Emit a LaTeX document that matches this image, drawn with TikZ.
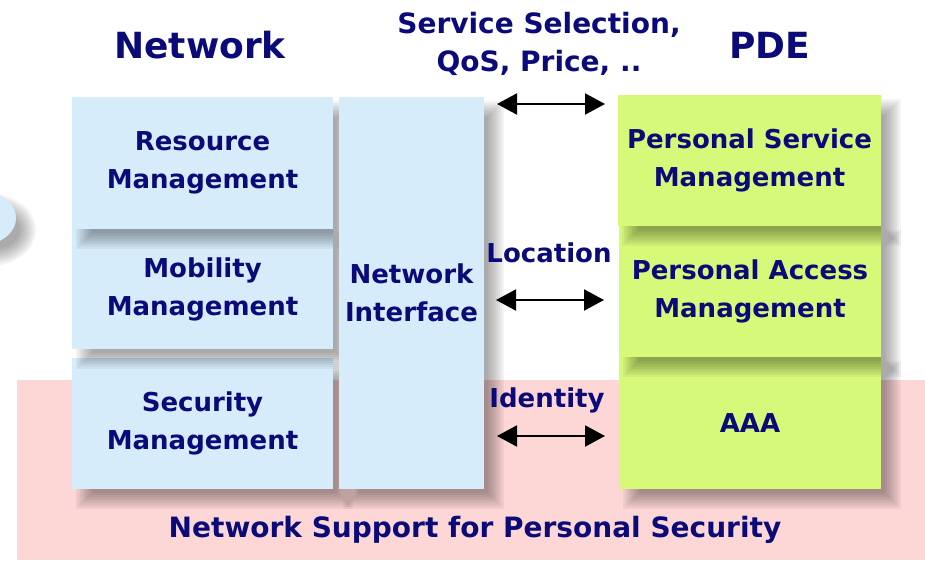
\documentclass[tikz,border=0pt]{standalone}
\usepackage{fontspec}
\setmainfont{DejaVu Sans}
\usetikzlibrary{arrows.meta,shapes.geometric}
\definecolor{boxblue}{RGB}{214,236,251}
\definecolor{boxgreen}{RGB}{214,249,122}
\definecolor{pinkbg}{RGB}{253,214,214}
\definecolor{navy}{RGB}{10,10,120}
\tikzset{
  shadowlayer/.style={fill=black,fill opacity=0.045},
  bluebox/.style={rectangle,fill=boxblue,inner sep=0pt,align=center,text=navy,
    font=\fontsize{26}{38}\selectfont\bfseries},
  greenbox/.style={rectangle,fill=boxgreen,inner sep=0pt,align=center,text=navy,
    font=\fontsize{26}{38}\selectfont\bfseries},
  lbl/.style={text=navy,align=center,inner sep=0pt,font=\fontsize{26}{38}\selectfont\bfseries},
  biglbl/.style={text=navy,align=center,inner sep=0pt,font=\fontsize{28}{38}\selectfont\bfseries},
  title/.style={text=navy,inner sep=0pt,font=\fontsize{36}{40}\selectfont\bfseries},
  dblarrow/.style={line width=2pt,{Triangle[length=20pt,width=21pt]}-{Triangle[length=20pt,width=21pt]}}
}
% soft shadow of a rectangle (x1,y1)-(x2,y2), offset by 12
\newcommand{\softshadow}[4]{%
  \foreach \sr in {-8,-6,...,8} {%
    \fill[shadowlayer] (#1+12-\sr,#2+12-\sr) rectangle (#3+12+\sr,#4+12+\sr);}}
\begin{document}
\begin{tikzpicture}[x=1pt,y=-1pt]
\useasboundingbox (0,0) rectangle (925,560);
% pink background
\fill[pinkbg] (17,380) rectangle (925,560);
% left partial ellipse
\foreach \sr in {-8,-6,...,8} {\fill[shadowlayer] (-10,230) ellipse [x radius=38+\sr, y radius=28+\sr];}
\node[ellipse,fill=boxblue,minimum width=76pt,minimum height=56pt,inner sep=0pt] (ell) at (-22,218) {};
% left column
\softshadow{72}{358}{333}{489}
\node[bluebox,minimum width=261pt,minimum height=131pt] (sec) at (202.5,423.5) {Security\\Management};
\softshadow{72}{229}{333}{349}
\node[bluebox,minimum width=261pt,minimum height=120pt] (mob) at (202.5,289) {Mobility\\Management};
\softshadow{72}{97}{333}{229}
\node[bluebox,minimum width=261pt,minimum height=132pt] (res) at (202.5,163) {Resource\\Management};
\softshadow{339}{97}{484}{489}
\node[bluebox,minimum width=145pt,minimum height=392pt] (ni) at (411.5,293) {Network\\Interface};
% right column
\softshadow{619}{357}{881}{489}
\node[greenbox,minimum width=262pt,minimum height=132pt] (aaa) at (750,423) {AAA};
\softshadow{619}{226}{881}{357}
\node[greenbox,minimum width=262pt,minimum height=131pt] (pam) at (750,291.5) {Personal Access\\Management};
\softshadow{618}{95}{881}{226}
\node[greenbox,minimum width=263pt,minimum height=131pt] (psm) at (749.5,160.5) {Personal Service\\Management};
% titles and labels
\node[title] (tnet) at (200,45) {Network};
\node[title] (tpde) at (770,45) {PDE};
\node[biglbl] (lsel) at (539,44) {Service Selection,\\QoS, Price, ..};
\node[lbl] (lloc) at (549,253) {Location};
\node[lbl] (lid) at (547,400) {Identity};
\node[biglbl] (lsup) at (475,530) {Network Support for Personal Security};
% arrows
\coordinate (a1) at (497,104);
\coordinate (b1) at (605,104);
\coordinate (a2) at (496,300);
\coordinate (b2) at (604,300);
\coordinate (a3) at (497,436);
\coordinate (b3) at (605,436);
\draw[dblarrow] (a1) -- (b1);
\draw[dblarrow] (a2) -- (b2);
\draw[dblarrow] (a3) -- (b3);
\end{tikzpicture}
\end{document}
